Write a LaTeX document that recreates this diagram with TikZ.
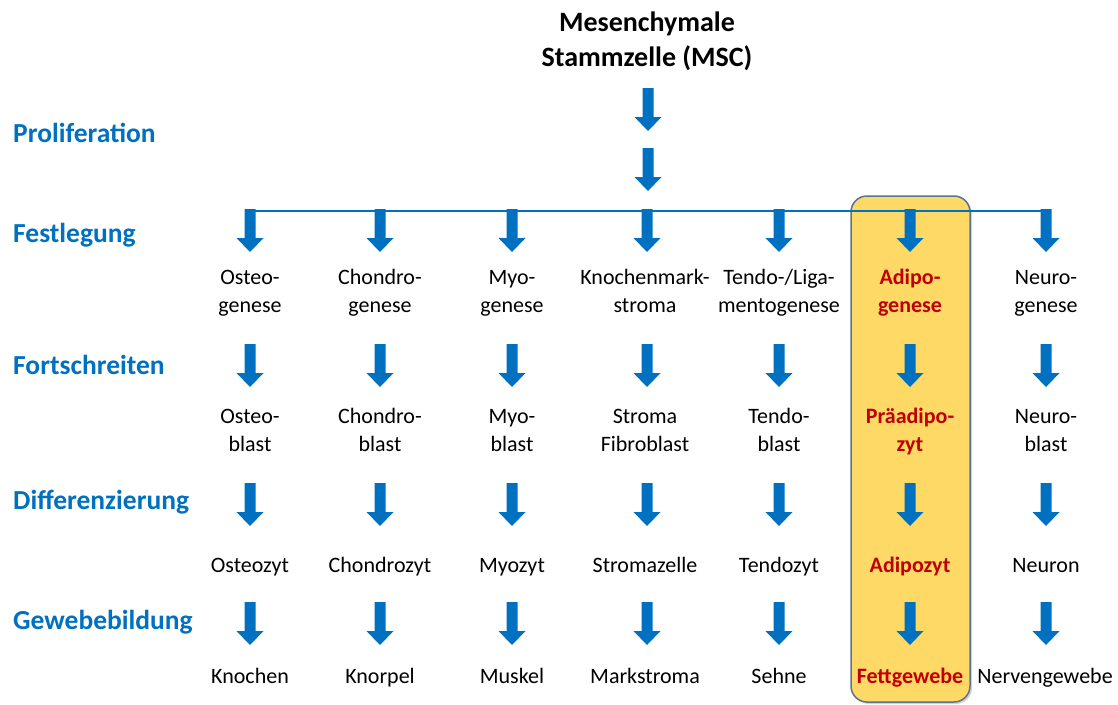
\documentclass[tikz,border=0pt]{standalone}
\usepackage{fontspec}
\setmainfont{Carlito}
\usetikzlibrary{shadows}
\definecolor{arrowblue}{HTML}{0070C0}
\definecolor{hlred}{HTML}{C00000}
\definecolor{boxfill}{HTML}{FFD966}
\definecolor{boxline}{HTML}{5A7394}
\newcommand\tl[2]{\strut #1\\\strut #2}
\tikzset{
  barrow/.pic={\fill[arrowblue] (-5.5,0) -- (5.5,0) -- (5.5,29) -- (13.5,29) -- (0,43) -- (-13.5,29) -- (-5.5,29) -- cycle;},
  celltext/.style={align=center, inner sep=0pt, font=\fontsize{22}{28}\selectfont},
  hltext/.style={celltext, text=hlred, font=\fontsize{22}{28}\selectfont\bfseries},
  oneline/.style={anchor=base},
  stagelabel/.style={anchor=base west, inner sep=0pt, text=arrowblue, font=\fontsize{27.5}{32}\selectfont\bfseries},
  titletext/.style={align=center, inner sep=0pt, font=\fontsize{28}{35}\selectfont\bfseries},
  hlbox/.style={fill=boxfill, draw=boxline, line width=1.5pt, rounded corners=16pt,
    drop shadow={opacity=0.35, shadow xshift=2pt, shadow yshift=-2pt}},
}
\begin{document}
\begin{tikzpicture}[x=1pt,y=-1pt]
\useasboundingbox (0,0) rectangle (1118,704);
% highlight box
\path[hlbox] (851,196) rectangle (970,702);
% title
\node[titletext] (msc) at (647,41) {Mesenchymale\\Stammzelle (MSC)};
% stage labels
\node[stagelabel] (prolif) at (13,142) {Proliferation};
\node[stagelabel] (festl) at (13,242) {Festlegung};
\node[stagelabel] (forts) at (13,374) {Fortschreiten};
\node[stagelabel] (diff) at (13,509) {Differenzierung};
\node[stagelabel] (gewebe) at (13,629) {Gewebebildung};
% top arrows
\pic at (648,88) {barrow};
\pic at (648,148) {barrow};
% branch line
\coordinate (bl) at (250,211);
\coordinate (br) at (1046,211);
\draw[arrowblue, line width=2pt] (bl) -- (br);
% columns
\foreach \x in {250,380,512,647,779,910,1046}{
  \pic at (\x,209) {barrow};
  \pic at (\x,344) {barrow};
  \pic at (\x,483) {barrow};
  \pic at (\x,602) {barrow};
}
% row 1
\node[celltext] (r1c1) at (250,292.5) {\tl{Osteo-}{genese}};
\node[celltext] (r1c2) at (380,292.5) {\tl{Chondro-}{genese}};
\node[celltext] (r1c3) at (512,292.5) {\tl{Myo-}{genese}};
\node[celltext] (r1c4) at (645,292.5) {\tl{Knochenmark-}{stroma}};
\node[celltext] (r1c5) at (779,292.5) {\tl{Tendo-/Liga-}{mentogenese}};
\node[hltext] (r1c6) at (910,292.5) {\tl{Adipo-}{genese}};
\node[celltext] (r1c7) at (1046,292.5) {\tl{Neuro-}{genese}};
% row 2
\node[celltext] (r2c1) at (250,431.5) {\tl{Osteo-}{blast}};
\node[celltext] (r2c2) at (380,431.5) {\tl{Chondro-}{blast}};
\node[celltext] (r2c3) at (512,431.5) {\tl{Myo-}{blast}};
\node[celltext] (r2c4) at (645,431.5) {\tl{Stroma}{Fibroblast}};
\node[celltext] (r2c5) at (779,431.5) {\tl{Tendo-}{blast}};
\node[hltext] (r2c6) at (910,431.5) {\tl{Präadipo-}{zyt}};
\node[celltext] (r2c7) at (1046,431.5) {\tl{Neuro-}{blast}};
% row 3
\node[celltext, oneline] (r3c1) at (250,572) {Osteozyt};
\node[celltext, oneline] (r3c2) at (380,572) {Chondrozyt};
\node[celltext, oneline] (r3c3) at (512,572) {Myozyt};
\node[celltext, oneline] (r3c4) at (645,572) {Stromazelle};
\node[celltext, oneline] (r3c5) at (779,572) {Tendozyt};
\node[hltext, oneline] (r3c6) at (910,572) {Adipozyt};
\node[celltext, oneline] (r3c7) at (1046,572) {Neuron};
% row 4
\node[celltext, oneline] (r4c1) at (250,683) {Knochen};
\node[celltext, oneline] (r4c2) at (380,683) {Knorpel};
\node[celltext, oneline] (r4c3) at (512,683) {Muskel};
\node[celltext, oneline] (r4c4) at (645,683) {Markstroma};
\node[celltext, oneline] (r4c5) at (779,683) {Sehne};
\node[hltext, oneline] (r4c6) at (910,683) {Fettgewebe};
\node[celltext, oneline] (r4c7) at (1045,683) {Nervengewebe};
\end{tikzpicture}
\end{document}
